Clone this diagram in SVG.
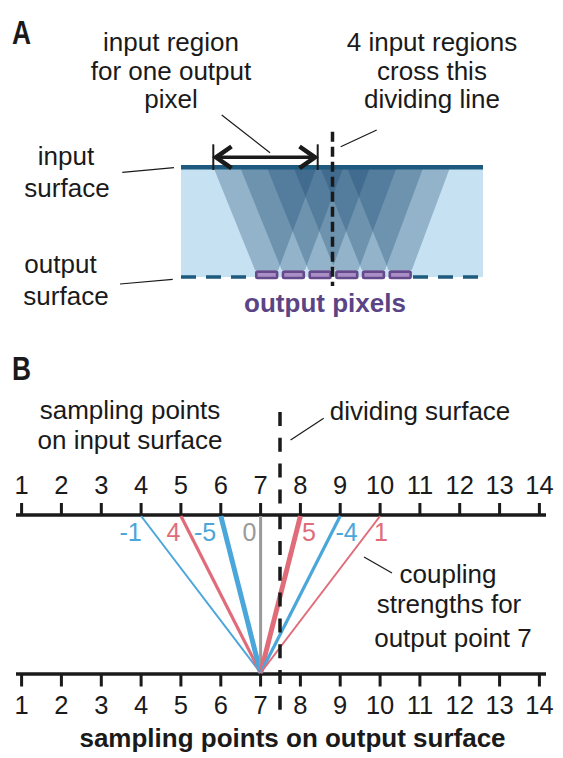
<svg xmlns="http://www.w3.org/2000/svg" width="563" height="758" viewBox="0 0 563 758">
<style>
text{font-family:"Liberation Sans",Arial,sans-serif;fill:#1a1a1a}
.t{font-size:26px}
.c{text-anchor:middle}
.hd{font-size:34px;font-weight:bold}
.num{font-size:25.5px;text-anchor:middle}
.cs{font-size:25px;text-anchor:middle}
.lead{stroke:#1a1a1a;stroke-width:1.2;fill:none}
.trap{fill:#1c4a72;fill-opacity:0.3}
.pix{fill:#a98fc6;stroke:#654a8c;stroke-width:2.6}
.axis{stroke:#1a1a1a;stroke-width:3.5;fill:none}
.tick{stroke:#1a1a1a;stroke-width:3;fill:none}
.blue{stroke:#4ba6d9;fill:none}
.red{stroke:#e06c7a;fill:none}
</style>

<!-- Panel A -->
<g id="labelA"><text class="hd" x="12" y="44" textLength="19" lengthAdjust="spacingAndGlyphs">A</text></g>

<g id="text-input-region">
<text class="t c" x="171" y="51">input region</text>
<text class="t c" x="171" y="80">for one output</text>
<text class="t c" x="171" y="108">pixel</text>
</g>

<g id="text-4-input-regions">
<text class="t c" x="432" y="51">4 input regions</text>
<text class="t c" x="432" y="80">cross this</text>
<text class="t c" x="432" y="108">dividing line</text>
</g>

<g id="label-input-surface">
<text class="t c" x="66" y="165">input</text>
<text class="t c" x="67" y="196.5">surface</text>
</g>
<g id="label-output-surface">
<text class="t c" x="60.5" y="273">output</text>
<text class="t c" x="66" y="305">surface</text>
</g>

<g id="slab">
<rect x="181" y="167" width="302" height="110" fill="#c6e1f1"/>
<polygon class="trap" points="213.3,167 316.7,167 278.3,270 255,270"/>
<polygon class="trap" points="240,167 343.4,167 305,270 281.7,270"/>
<polygon class="trap" points="266.7,167 370.1,167 331.7,270 308.4,270"/>
<polygon class="trap" points="293.4,167 396.8,167 358.4,270 335.1,270"/>
<polygon class="trap" points="320.1,167 423.5,167 385.1,270 361.8,270"/>
<polygon class="trap" points="346.8,167 450.2,167 411.8,270 388.5,270"/>
<line x1="181" y1="167.2" x2="483" y2="167.2" stroke="#1d5a7e" stroke-width="4.4"/>
<line x1="181" y1="277" x2="250" y2="277" stroke="#1d5a7e" stroke-width="3.3" stroke-dasharray="15 10"/>
<line x1="413" y1="277" x2="483" y2="277" stroke="#1d5a7e" stroke-width="3.3" stroke-dasharray="15 10"/>
</g>

<g id="output-pixels">
<rect class="pix" x="256.3" y="271.6" width="20.8" height="6.4" rx="1.2"/>
<rect class="pix" x="283" y="271.6" width="20.8" height="6.4" rx="1.2"/>
<rect class="pix" x="309.7" y="271.6" width="20.8" height="6.4" rx="1.2"/>
<rect class="pix" x="336.4" y="271.6" width="20.8" height="6.4" rx="1.2"/>
<rect class="pix" x="363.1" y="271.6" width="20.8" height="6.4" rx="1.2"/>
<rect class="pix" x="389.8" y="271.6" width="20.8" height="6.4" rx="1.2"/>
<text x="325" y="311.5" text-anchor="middle" style="font-size:26px;font-weight:bold;fill:#5b4486">output pixels</text>
</g>

<g id="dividing-line-A">
<line x1="332.5" y1="131.7" x2="332.5" y2="286" stroke="#1a1a1a" stroke-width="3.5" stroke-dasharray="10 5"/>
</g>

<g id="input-region-arrow">
<line x1="213.3" y1="144.3" x2="213.3" y2="170" stroke="#1a1a1a" stroke-width="2"/>
<line x1="317.7" y1="144.3" x2="317.7" y2="170" stroke="#1a1a1a" stroke-width="2"/>
<line x1="216" y1="157.3" x2="315" y2="157.3" stroke="#1a1a1a" stroke-width="3.5"/>
<polyline points="231.5,146.5 216,157.3 231.5,168.1" fill="none" stroke="#1a1a1a" stroke-width="4.5"/>
<polyline points="299.5,146.5 315,157.3 299.5,168.1" fill="none" stroke="#1a1a1a" stroke-width="4.5"/>
</g>

<!-- Panel B -->
<g id="labelB"><text class="hd" x="12" y="379.5" textLength="19" lengthAdjust="spacingAndGlyphs">B</text></g>

<g id="text-sampling-input">
<text class="t c" x="130" y="419">sampling points</text>
<text class="t c" x="130" y="449">on input surface</text>
</g>
<g id="text-dividing-surface">
<text class="t c" x="420" y="420">dividing surface</text>
</g>

<g id="input-axis">
<line class="axis" x1="16" y1="515" x2="546" y2="515"/>
<path class="tick" d="M21.6 515V503M61.4 515V503M101.3 515V503M141.1 515V503M180.9 515V503M220.8 515V503M260.6 515V503M300.4 515V503M340.2 515V503M380.1 515V503M419.9 515V503M459.7 515V503M499.6 515V503M539.4 515V503"/>
<text class="num" x="21.6" y="494">1</text>
<text class="num" x="61.4" y="494">2</text>
<text class="num" x="101.3" y="494">3</text>
<text class="num" x="141.1" y="494">4</text>
<text class="num" x="180.9" y="494">5</text>
<text class="num" x="220.8" y="494">6</text>
<text class="num" x="260.6" y="494">7</text>
<text class="num" x="300.4" y="494">8</text>
<text class="num" x="340.2" y="494">9</text>
<text class="num" x="380.1" y="494">10</text>
<text class="num" x="419.9" y="494">11</text>
<text class="num" x="459.7" y="494">12</text>
<text class="num" x="499.6" y="494">13</text>
<text class="num" x="539.4" y="494">14</text>
</g>

<g id="output-axis">
<line class="axis" x1="16" y1="674" x2="546" y2="674"/>
<path class="tick" d="M21.6 674V686.5M61.4 674V686.5M101.3 674V686.5M141.1 674V686.5M180.9 674V686.5M220.8 674V686.5M260.6 674V686.5M300.4 674V686.5M340.2 674V686.5M380.1 674V686.5M419.9 674V686.5M459.7 674V686.5M499.6 674V686.5M539.4 674V686.5"/>
<text class="num" x="21.6" y="714">1</text>
<text class="num" x="61.4" y="714">2</text>
<text class="num" x="101.3" y="714">3</text>
<text class="num" x="141.1" y="714">4</text>
<text class="num" x="180.9" y="714">5</text>
<text class="num" x="220.8" y="714">6</text>
<text class="num" x="260.6" y="714">7</text>
<text class="num" x="300.4" y="714">8</text>
<text class="num" x="340.2" y="714">9</text>
<text class="num" x="380.1" y="714">10</text>
<text class="num" x="419.9" y="714">11</text>
<text class="num" x="459.7" y="714">12</text>
<text class="num" x="499.6" y="714">13</text>
<text class="num" x="539.4" y="714">14</text>
<text x="292.5" y="747" text-anchor="middle" style="font-size:26px;font-weight:bold">sampling points on output surface</text>
</g>

<g id="coupling-lines">
<line class="blue" x1="141.1" y1="516" x2="260.6" y2="673" stroke-width="2"/>
<line class="red" x1="180.9" y1="516" x2="260.6" y2="673" stroke-width="3.2"/>
<line class="blue" x1="220.8" y1="516" x2="260.6" y2="673" stroke-width="5"/>
<line x1="260.6" y1="516" x2="260.6" y2="673" stroke="#9a9a9a" stroke-width="3"/>
<line class="red" x1="300.4" y1="516" x2="260.6" y2="673" stroke-width="5"/>
<line class="blue" x1="340.2" y1="516" x2="260.6" y2="673" stroke-width="3.2"/>
<line class="red" x1="380.1" y1="516" x2="260.6" y2="673" stroke-width="2"/>
<text class="cs" x="130.5" y="541" style="fill:#4ba6d9">-1</text>
<text class="cs" x="173.5" y="541" style="fill:#e06c7a">4</text>
<text class="cs" x="205" y="541" style="fill:#4ba6d9">-5</text>
<text class="cs" x="249.5" y="541" style="fill:#9a9a9a">0</text>
<text class="cs" x="309" y="541" style="fill:#e06c7a">5</text>
<text class="cs" x="346.5" y="541" style="fill:#4ba6d9">-4</text>
<text class="cs" x="381" y="541" style="fill:#e06c7a">1</text>
</g>

<g id="dividing-line-B">
<line x1="280" y1="412" x2="280" y2="710" stroke="#1a1a1a" stroke-width="3.5" stroke-dasharray="14 11.8"/>
</g>

<g id="text-coupling">
<text class="t c" x="448" y="583">coupling</text>
<text class="t c" x="449" y="613.3">strengths for</text>
<text class="t c" x="453" y="646.7">output point 7</text>
</g>

<g id="connectors">
<line class="lead" x1="221.7" y1="115" x2="270" y2="152.7"/>
<line class="lead" x1="376.7" y1="130" x2="340.7" y2="146.7"/>
<line class="lead" x1="122.3" y1="172.3" x2="174" y2="167.7"/>
<line class="lead" x1="120" y1="284" x2="172.7" y2="279.3"/>
<line class="lead" x1="290.6" y1="440" x2="323.7" y2="418.3"/>
<line class="lead" x1="364" y1="557" x2="392" y2="573"/>
</g>
</svg>
